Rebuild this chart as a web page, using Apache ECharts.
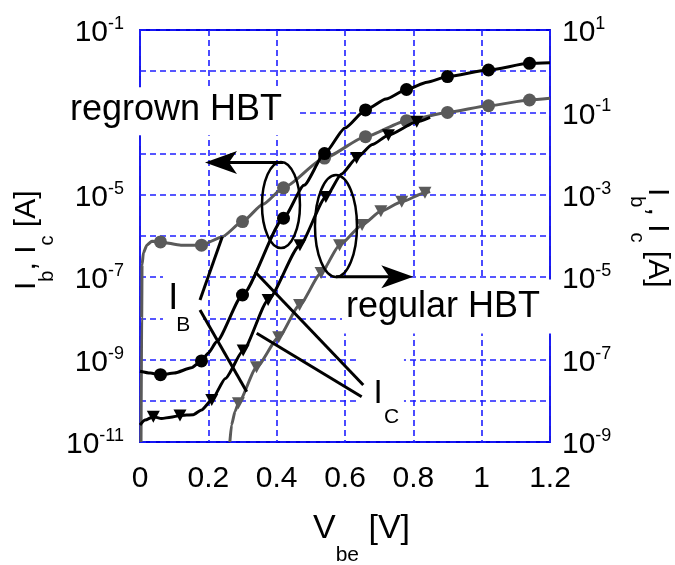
<!DOCTYPE html>
<html>
<head>
<meta charset="utf-8">
<title>Gummel plot - regrown vs regular HBT</title>
<script src="https://cdn.jsdelivr.net/npm/echarts@6.0.0/dist/echarts.min.js"></script>
<style>
html, body { margin: 0; padding: 0; background: #fff; }
#chart { width: 675px; height: 565px; }
</style>
</head>
<body>
<div id="chart"></div>
<script>
// regrown HBT (circles, left axis) - currents in A
var regrownIcV = [0, 0.03, 0.06, 0.10, 0.15, 0.18, 0.20, 0.224, 0.30, 0.42, 0.48, 0.54, 0.60, 0.66, 0.72, 0.78, 0.84, 0.90, 1.02, 1.14, 1.20];
var regrownIc  = [5.2e-10, 4.7e-10, 4.3e-10, 4.7e-10, 6.3e-10, 9.3e-10, 1.45e-9, 2.7e-9, 3.7e-8, 2.7e-6, 1.7e-5, 1.0e-4, 4.2e-4, 1.15e-3, 2.1e-3, 3.6e-3, 5.4e-3, 7.4e-3, 1.07e-2, 1.55e-2, 1.6e-2];
var regrownIbV = [0.003, 0.005, 0.006, 0.01, 0.02, 0.035, 0.06, 0.12, 0.18, 0.24, 0.30, 0.36, 0.42, 0.54, 0.66, 0.78, 0.90, 1.02, 1.14, 1.20];
var regrownIb  = [1e-11, 1e-8, 2.0e-7, 3.9e-7, 6.0e-7, 7.5e-7, 7.2e-7, 6.0e-7, 6.0e-7, 9.5e-7, 2.24e-6, 5.9e-6, 1.48e-5, 7.8e-5, 2.57e-4, 6.3e-4, 1.0e-3, 1.45e-3, 2.0e-3, 2.2e-3];
var regrownMarks = [0.06, 0.18, 0.30, 0.42, 0.54, 0.66, 0.78, 0.90, 1.02, 1.14];

// regular HBT (triangles, right axis)
var regularIcV = [0, 0.015, 0.039, 0.063, 0.09, 0.117, 0.156, 0.18, 0.21, 0.25, 0.302, 0.375, 0.468, 0.544, 0.59, 0.634, 0.68, 0.727, 0.81, 0.849];
var regularIc  = [2.6e-9, 3.4e-9, 4.1e-9, 3.7e-9, 4.0e-9, 4.4e-9, 4.6e-9, 6.0e-9, 1.05e-8, 3.5e-8, 1.66e-7, 2.8e-6, 6.0e-5, 8.9e-4, 3.2e-3, 7.8e-3, 1.66e-2, 2.8e-2, 5.9e-2, 7.6e-2];
var regularIcMarks = [0.039, 0.117, 0.21, 0.302, 0.375, 0.468, 0.544, 0.634, 0.727, 0.81];
var regularIbV = [0.263, 0.268, 0.278, 0.288, 0.341, 0.406, 0.467, 0.53, 0.584, 0.65, 0.705, 0.766, 0.834, 0.849];
var regularIb  = [1e-9, 2.6e-9, 5.5e-9, 8.7e-9, 6.5e-8, 3.5e-7, 2.1e-6, 1.26e-5, 6.0e-5, 1.86e-4, 4.0e-4, 6.8e-4, 1.12e-3, 1.2e-3];
var regularIbMarks = [0.288, 0.341, 0.406, 0.467, 0.53, 0.584, 0.65, 0.705, 0.766, 0.834];

// axis ranges, in decades
var leftDecades = [-11, -1];
var rightDecades = [-9, 1];

var FONT = '"Liberation Sans", Arial, sans-serif';
var BLUE = '#1f1fff';
var GRAY = '#5a5a5a';

var chart = echarts.init(document.getElementById('chart'));

function curve(vs, is, marks) {
    return vs.map(function (v, k) {
        var item = { value: [v, Math.log10(is[k])] };
        if (marks.indexOf(v) < 0) item.symbol = 'none';
        return item;
    });
}

function powLabel(v) {
    var e = Math.round(v);
    if (e % 2 === 0) return '';
    return '{a|10}{b|' + e + '}';
}
var powRich = {
    a: { fontSize: 30, lineHeight: 30, padding: [3, 0, 3, 0], verticalAlign: 'top', fontFamily: FONT, color: '#000' },
    b: { fontSize: 18, lineHeight: 18, verticalAlign: 'top', fontFamily: FONT, color: '#000' }
};

function gridLine() {
    return { show: true, lineStyle: { color: BLUE, width: 1.6, type: [6, 4] } };
}

function lineSeries(name, data, yIdx, color, symbol, z) {
    return {
        name: name,
        type: 'line',
        yAxisIndex: yIdx,
        data: data,
        smooth: 0.2,
        smoothMonotone: 'x',
        showAllSymbol: true,
        symbol: symbol,
        symbolSize: symbol === 'circle' ? 13 : [13, 12],
        symbolRotate: symbol === 'triangle' ? 180 : 0,
        lineStyle: { color: color, width: 3 },
        itemStyle: { color: color, borderWidth: 0 },
        z: z
    };
}

chart.setOption({
    animation: false,
    grid: { left: 140, right: 125, top: 30, bottom: 123, show: true, borderColor: '#0000dd', borderWidth: 1.8 },
    xAxis: {
        type: 'value', min: 0, max: 1.2, interval: 0.2,
        axisLine: { show: false }, axisTick: { show: false },
        splitLine: gridLine(),
        axisLabel: {
            fontSize: 30, lineHeight: 30, margin: 22, color: '#000', fontFamily: FONT,
            formatter: function (v) { return String(+v.toFixed(1)); }
        }
    },
    yAxis: [
        {
            type: 'value', position: 'left', min: leftDecades[0], max: leftDecades[1], interval: 1,
            axisLine: { show: false }, axisTick: { show: false },
            splitLine: gridLine(),
            axisLabel: { margin: 16, formatter: powLabel, rich: powRich }
        },
        {
            type: 'value', position: 'right', min: rightDecades[0], max: rightDecades[1], interval: 1,
            axisLine: { show: false }, axisTick: { show: false },
            splitLine: { show: false },
            axisLabel: { margin: 12, formatter: powLabel, rich: powRich }
        }
    ],
    series: [
        lineSeries('regrown Ib', curve(regrownIbV, regrownIb, regrownMarks), 0, GRAY, 'circle', 2),
        lineSeries('regular Ib', curve(regularIbV, regularIb, regularIbMarks), 1, GRAY, 'triangle', 2),
        lineSeries('regular Ic', curve(regularIcV, regularIc, regularIcMarks), 1, '#000', 'triangle', 3),
        lineSeries('regrown Ic', curve(regrownIcV, regrownIc, regrownMarks), 0, '#000', 'circle', 3)
    ]
});

// annotations, placed in (Vbe, left-axis decade)
function P(v, e) { return chart.convertToPixel({ xAxisIndex: 0, yAxisIndex: 0 }, [v, e]); }

var ovals = [[0.4126, -5.248, 19, 43], [0.5736, -5.757, 21, 51]];
var arrows = [[0.4185, 0.1902, -4.216], [0.5736, 0.7999, -6.988]];
var leaders = [
    [0.1756, -7.553, 0.2409, -6.017],
    [0.1756, -7.796, 0.3123, -9.779],
    [0.3366, -6.867, 0.6535, -9.617],
    [0.3415, -8.362, 0.6488, -9.900]
];

var g = [];
ovals.forEach(function (o) {
    var c = P(o[0], o[1]);
    g.push({ type: 'ellipse', z: 100, shape: { cx: c[0], cy: c[1], rx: o[2], ry: o[3] },
        style: { fill: 'none', stroke: '#000', lineWidth: 2.5 } });
});
arrows.forEach(function (a) {
    var s = P(a[0], a[2]), t = P(a[1], a[2]);
    var d = t[0] < s[0] ? 1 : -1;
    g.push({ type: 'line', z: 100, shape: { x1: s[0], y1: s[1], x2: t[0] + d * 24, y2: t[1] },
        style: { stroke: '#000', lineWidth: 3 } });
    g.push({ type: 'polygon', z: 100, shape: { points: [[t[0], t[1]], [t[0] + d * 32, t[1] - 11.5], [t[0] + d * 24, t[1]], [t[0] + d * 32, t[1] + 11.5]] },
        style: { fill: '#000' } });
});

// white boxes behind the I_B / I_C labels
[[0.0673, -6.777, 40, 69], [0.635, -8.888, 47, 75]].forEach(function (b) {
    var c = P(b[0], b[1]);
    g.push({ type: 'rect', z: 90, shape: { x: c[0], y: c[1], width: b[2], height: b[3] }, style: { fill: '#fff' } });
});
leaders.forEach(function (l) {
    var s = P(l[0], l[1]), t = P(l[2], l[3]);
    g.push({ type: 'line', z: 100, shape: { x1: s[0], y1: s[1], x2: t[0], y2: t[1] },
        style: { stroke: '#000', lineWidth: 3 } });
});

function label(text, v, e, size, extra) {
    var c = P(v, e);
    var st = { text: text, fontSize: size, fontFamily: FONT, fill: '#000', align: 'left', verticalAlign: 'middle' };
    for (var k in extra) st[k] = extra[k];
    g.push({ type: 'text', z: 95, x: c[0], y: c[1], style: st });
}
label('regrown HBT', -0.2166, -2.388, 36, { verticalAlign: 'top', backgroundColor: '#fff', padding: [5, 14, 7, 4] });
label('regular HBT', 0.5912, -7.056, 36, { verticalAlign: 'top', backgroundColor: '#fff', padding: [10, 12, 8, 4] });
label('I', 0.0828, -7.534, 36);
label('B', 0.1062, -8.153, 21);
label('I', 0.6836, -9.825, 33);
label('C', 0.7141, -10.410, 21);

// axis titles with sub-scripts
var titleRich = {
    m: { fontSize: 30, lineHeight: 30, verticalAlign: 'top', fontFamily: FONT, color: '#000' },
    s: { fontSize: 20, lineHeight: 20, verticalAlign: 'top', padding: [26, 0, 0, 0], fontFamily: FONT, color: '#000' }
};
g.push({ type: 'text', z: 95, x: 11.6, y: 290, rotation: Math.PI / 2,
    style: { text: '{m|I}{s|b}{m|, I}{s|c}{m| [A]}', rich: titleRich, align: 'left', verticalAlign: 'top' } });
g.push({ type: 'text', z: 95, x: 672.4, y: 188, rotation: -Math.PI / 2,
    style: { text: '{m|I}{s|b}{m|, I}{s|c}{m| [A]}', rich: titleRich, align: 'left', verticalAlign: 'top' } });
g.push({ type: 'text', z: 95, x: 313, y: 511.2,
    style: {
        text: '{m|V}{s|be}{m| [V]}', align: 'left', verticalAlign: 'top',
        rich: {
            m: { fontSize: 34, lineHeight: 34, verticalAlign: 'top', fontFamily: FONT, color: '#000' },
            s: { fontSize: 21, lineHeight: 21, verticalAlign: 'top', padding: [34, 0, 0, 0], fontFamily: FONT, color: '#000' }
        }
    } });

chart.setOption({ graphic: g });
</script>
</body>
</html>
